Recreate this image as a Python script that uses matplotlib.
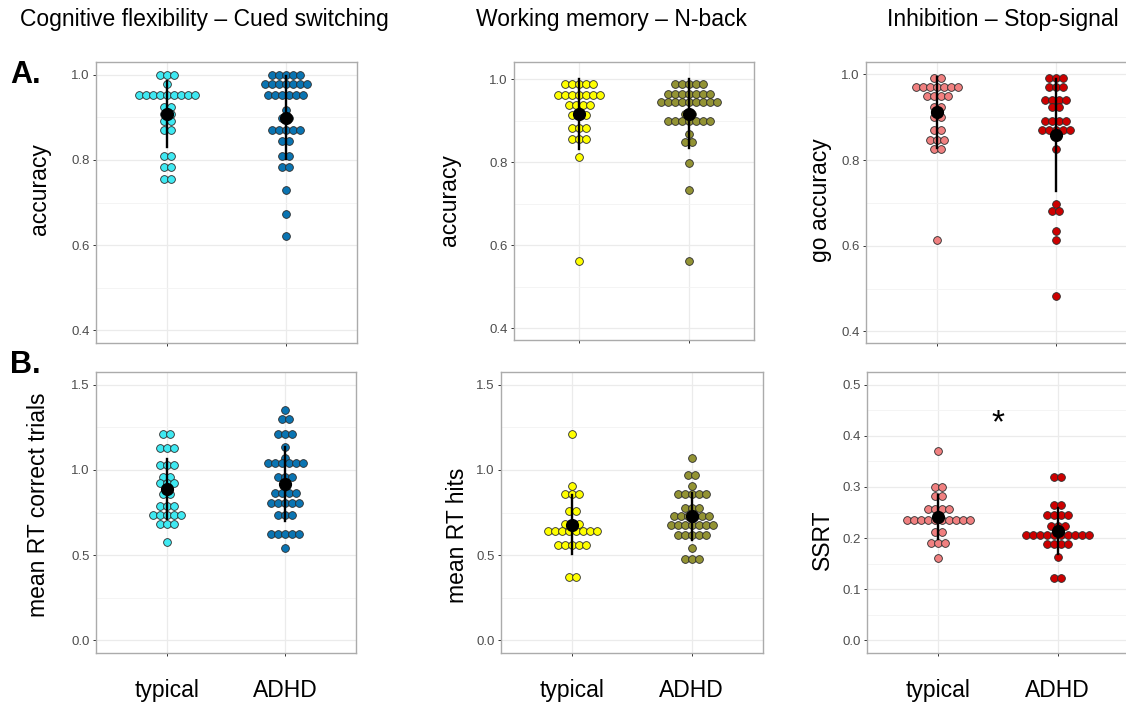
import numpy as np
import matplotlib.pyplot as plt
from collections import Counter

plt.rcParams['font.family'] = ['Liberation Sans', 'DejaVu Sans']

grupos = ["typical", "ADHD"]
titulos = ["Cognitive flexibility – Cued switching", "Working memory – N-back", "Inhibition – Stop-signal"]
etiquetas_y = ["accuracy", "accuracy", "go accuracy", "mean RT correct trials", "mean RT hits", "SSRT"]

# A. accuracy (un valor por participante)
cs_acc_typ = [1.0, 1.0, 1.0, 0.979, 0.952, 0.952, 0.952, 0.952, 0.952, 0.952, 0.952, 0.952, 0.952,
              0.925, 0.925, 0.908, 0.908, 0.891, 0.891, 0.871, 0.871, 0.81, 0.81, 0.783, 0.783, 0.756, 0.756]
cs_acc_adhd = [1.0, 1.0, 1.0, 1.0, 1.0, 0.979, 0.979, 0.979, 0.979, 0.979, 0.979, 0.979,
               0.952, 0.952, 0.952, 0.952, 0.952, 0.952, 0.918, 0.899, 0.899, 0.87, 0.87, 0.87, 0.87, 0.87,
               0.844, 0.844, 0.81, 0.81, 0.783, 0.783, 0.729, 0.674, 0.621]
nb_acc_typ = [0.988, 0.988, 0.988, 0.988, 0.988, 0.961, 0.961, 0.961, 0.961, 0.961, 0.961, 0.961,
              0.937, 0.937, 0.937, 0.937, 0.914, 0.914, 0.914, 0.882, 0.882, 0.882, 0.855, 0.855, 0.855,
              0.812, 0.563]
nb_acc_adhd = [0.988, 0.988, 0.988, 0.988, 0.988, 0.964, 0.964, 0.964, 0.964, 0.964, 0.964, 0.964,
               0.945, 0.945, 0.945, 0.945, 0.945, 0.945, 0.945, 0.945, 0.945, 0.916, 0.916,
               0.898, 0.898, 0.898, 0.898, 0.898, 0.898, 0.898, 0.868, 0.848, 0.848, 0.798, 0.734, 0.563]
ss_acc_typ = [0.992, 0.992, 0.971, 0.971, 0.971, 0.971, 0.971, 0.971, 0.971, 0.95, 0.95, 0.95, 0.95,
              0.923, 0.923, 0.912, 0.9, 0.9, 0.871, 0.871, 0.848, 0.848, 0.848, 0.825, 0.825, 0.613]
ss_acc_adhd = [0.992, 0.992, 0.992, 0.971, 0.971, 0.971, 0.94, 0.94, 0.94, 0.94, 0.923, 0.923,
               0.892, 0.892, 0.892, 0.892, 0.871, 0.871, 0.871, 0.871, 0.871, 0.827, 0.697, 0.68, 0.68,
               0.634, 0.613, 0.483]

# B. tiempos de reaccion
cs_rt_typ = [1.209, 1.209, 1.131, 1.131, 1.131, 1.031, 1.031, 1.031, 0.961, 0.961, 0.926, 0.926, 0.926,
             0.86, 0.86, 0.788, 0.788, 0.788, 0.737, 0.737, 0.737, 0.737, 0.737, 0.68, 0.68, 0.68, 0.579]
cs_rt_adhd = [1.351, 1.298, 1.298, 1.209, 1.209, 1.209, 1.133, 1.068, 1.039, 1.039, 1.039, 1.039, 1.039,
              1.039, 0.957, 0.957, 0.957, 0.865, 0.865, 0.865, 0.865, 0.805, 0.805, 0.805, 0.805, 0.805,
              0.735, 0.735, 0.735, 0.626, 0.626, 0.626, 0.626, 0.626, 0.54]
nb_rt_typ = [1.212, 0.906, 0.858, 0.858, 0.858, 0.756, 0.756, 0.682, 0.682, 0.682,
             0.643, 0.643, 0.643, 0.643, 0.643, 0.643, 0.643, 0.643, 0.559, 0.559, 0.559, 0.559, 0.559,
             0.374, 0.374]
nb_rt_adhd = [1.07, 0.973, 0.973, 0.903, 0.858, 0.858, 0.858, 0.858, 0.858, 0.774, 0.774, 0.774,
              0.731, 0.731, 0.731, 0.731, 0.731, 0.731, 0.678, 0.678, 0.678, 0.678, 0.678, 0.678, 0.678,
              0.618, 0.618, 0.618, 0.618, 0.618, 0.54, 0.476, 0.476, 0.476]
ss_rt_typ = [0.371, 0.3, 0.3, 0.283, 0.283, 0.256, 0.256, 0.256, 0.256,
             0.236, 0.236, 0.236, 0.236, 0.236, 0.236, 0.236, 0.236, 0.236, 0.236,
             0.212, 0.212, 0.19, 0.19, 0.19, 0.161]
ss_rt_adhd = [0.319, 0.319, 0.264, 0.264, 0.246, 0.246, 0.246, 0.246, 0.224, 0.224, 0.224,
              0.205, 0.205, 0.205, 0.205, 0.205, 0.205, 0.205, 0.205, 0.205, 0.205,
              0.188, 0.188, 0.188, 0.188, 0.163, 0.121, 0.121]

# media y desviacion (tipicos, ADHD)
medias = [[0.908, 0.899], [0.916, 0.916], [0.912, 0.859],
          [0.887, 0.916], [0.678, 0.727], [0.242, 0.214]]
desvios = [[0.077, 0.097], [0.084, 0.083], [0.083, 0.131],
           [0.177, 0.218], [0.172, 0.138], [0.043, 0.045]]

colores = [["#3FE9F2", "#0A74B2"], ["#FFFF00", "#939334"], ["#F08080", "#CD0000"]]

datos = [[cs_acc_typ, cs_acc_adhd], [nb_acc_typ, nb_acc_adhd], [ss_acc_typ, ss_acc_adhd],
         [cs_rt_typ, cs_rt_adhd], [nb_rt_typ, nb_rt_adhd], [ss_rt_typ, ss_rt_adhd]]

W, H = 1126, 709
fig = plt.figure(figsize=(W / 100, H / 100), dpi=100)

# cajas en pixeles: izq, der, arriba, abajo
cajas = [(96, 357, 62, 343), (514, 754, 62, 340), (866, 1127, 62, 343),
         (96, 356, 372, 653), (501, 763, 372, 653), (867, 1129, 372, 653)]
limites_y = [(0.37, 1.03), (0.372, 1.041), (0.373, 1.029),
             (-0.075, 1.575), (-0.075, 1.575), (-0.025, 0.525)]
ticks_y = [[0.4, 0.6, 0.8, 1.0]] * 3 + [[0.0, 0.5, 1.0, 1.5]] * 2 + [[0.0, 0.1, 0.2, 0.3, 0.4, 0.5]]
menores_y = [[0.5, 0.7, 0.9]] * 3 + [[0.25, 0.75, 1.25]] * 2 + [[0.05, 0.15, 0.25, 0.35, 0.45]]
pos_ylabel = [(40, 189), (449, 200), (820, 200), (39, 505), (457, 535), (822, 540)]

dot_px = 7.0
for k in range(6):
    l, r, t, b = cajas[k]
    ax = fig.add_axes([l / W, 1 - b / H, (r - l) / W, (b - t) / H])
    ax.set_xlim(0.4, 2.6)
    ax.set_ylim(*limites_y[k])
    dx = dot_px * 2.2 / (r - l)
    for g in range(2):
        xs, ys = [], []
        for v, n in Counter(datos[k][g]).items():
            for i in range(n):
                xs.append(g + 1 + (i - (n - 1) / 2) * dx)
                ys.append(v)
        ax.scatter(xs, ys, s=31, color=colores[k % 3][g], edgecolor="#2a2a2a",
                   linewidth=0.6, zorder=2)
        m, sd = medias[k][g], desvios[k][g]
        ax.plot([g + 1, g + 1], [m - sd, m + sd], color="black", lw=1.7, zorder=3)
        ax.scatter([g + 1], [m], s=72, color="black", zorder=4)

    ax.set_xticks([1, 2])
    ax.set_yticks(ticks_y[k])
    ax.set_yticks(menores_y[k], minor=True)
    ax.set_yticklabels(["%.1f" % v for v in ticks_y[k]], fontsize=9.5, color="#4D4D4D")
    if k >= 3:
        ax.set_xticklabels(grupos, fontsize=16.5, color="black")
        ax.tick_params(axis="x", pad=16)
    else:
        ax.set_xticklabels([])
    ax.tick_params(which="major", length=2.5, width=0.7, color="#333333")
    ax.tick_params(axis="y", pad=2)
    ax.tick_params(which="minor", length=0)
    ax.grid(True, which="major", color="#EBEBEB", lw=0.9, zorder=0)
    ax.grid(True, which="minor", axis="y", color="#F3F3F3", lw=0.6, zorder=0)
    ax.set_axisbelow(True)
    for s in ax.spines.values():
        s.set_color("#ABABAB")
        s.set_linewidth(1.0)

    fig.text(pos_ylabel[k][0] / W, 1 - pos_ylabel[k][1] / H, etiquetas_y[k], rotation=90,
             ha="center", va="center", fontsize=16.5)

    if k == 5:
        ax.text(1.5, 0.423, "*", ha="center", va="center", fontsize=24)

for x, tit in zip([204, 611, 1003], titulos):
    fig.text(x / W, 1 - 26 / H, tit, ha="center", va="baseline", fontsize=16.5)

fig.text(10 / W, 1 - 83 / H, "A.", fontsize=22, fontweight="bold", va="baseline")
fig.text(10 / W, 1 - 373 / H, "B.", fontsize=22, fontweight="bold", va="baseline")

plt.savefig("out.png", dpi=100)
